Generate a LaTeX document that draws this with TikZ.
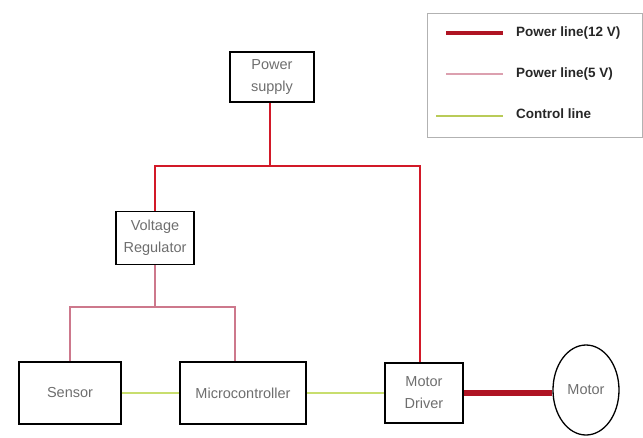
\documentclass[tikz,border=0pt]{standalone}
\usepackage{fontspec}
\setmainfont{Liberation Sans}
\usetikzlibrary{shapes.geometric}
\definecolor{red12}{RGB}{210,25,40}
\definecolor{dark12}{RGB}{175,20,35}
\definecolor{pink5}{RGB}{205,120,140}
\definecolor{ctrl}{RGB}{200,222,110}
\definecolor{boxtext}{RGB}{110,110,110}
\tikzset{
	blk/.style={draw=black, line width=1.8pt, text=boxtext, align=center, inner sep=0pt, font=\fontsize{14.5}{22}\selectfont},
	pw12/.style={line width=2.8pt, color=red12},
	pw5/.style={line width=1.3pt, color=pink5},
	ctl/.style={line width=2.2pt, color=ctrl},
	mot/.style={line width=5.5pt, color=dark12},
	lgd/.style={font=\bfseries\fontsize{13.5}{15}\selectfont, anchor=west, text=black!85, inner sep=0pt}
}

\begin{document}
\begin{tikzpicture}[x=1pt, y=-1pt]
	%%%%% START %%%%%
	\useasboundingbox (0,0) rectangle (643,437);

	\node[blk, minimum width=84, minimum height=50] (ps) at (272, 77) {Power\\supply};
	\node[blk, minimum width=78, minimum height=53] (vr) at (155, 238) {Voltage\\Regulator};
	\node[blk, minimum width=102, minimum height=62] (sensor) at (70, 393) {Sensor};
	\node[blk, minimum width=126, minimum height=62] (mcu) at (243, 393) {Microcontroller};
	\node[blk, minimum width=78, minimum height=60] (md) at (424, 393) {Motor\\Driver};
	\node[blk, ellipse, line width=1.3pt, minimum width=66, minimum height=90] (motor) at (586, 390) {Motor};

	%%%%% 12 V %%%%%
	\coordinate (j12) at (270, 166);
	\draw[pw12] (ps.south -| j12) -- (j12);
	\draw[pw12] (vr.north) |- (j12) -| ([xshift=-4pt]md.north);
	\draw[mot] (md.east) -- (md.east -| motor.west);

	%%%%% 5 V %%%%%
	\coordinate (j5) at (155, 307);
	\draw[pw5] (vr.south) -- (j5);
	\draw[pw5] (sensor.north) |- (j5) -| ([xshift=-8pt]mcu.north);

	%%%%% CONTROL %%%%%
	\draw[ctl] (sensor.east) -- (mcu.west);
	\draw[ctl] (mcu.east) -- (md.west);

	%%%%% LEGEND %%%%%
	\node[draw=black!30, line width=0.8pt, minimum width=215, minimum height=124, inner sep=0pt] (lgbox) at (534.5, 75) {};
	\coordinate (l1a) at (446, 33);  \coordinate (l1b) at (503, 33);
	\coordinate (l2a) at (446, 74);  \coordinate (l2b) at (503, 74);
	\coordinate (l3a) at (436, 116); \coordinate (l3b) at (503, 116);
	\draw[line width=4pt, color=dark12] (l1a) -- (l1b);
	\draw[line width=2.5pt, color=pink5!70] (l2a) -- (l2b);
	\draw[line width=1.5pt, color=ctrl!80!olive] (l3a) -- (l3b);
	\node[lgd] (t12) at (516, 33) {Power line(12 V)};
	\node[lgd] (t5) at (516, 74) {Power line(5 V)};
	\node[lgd] (tc) at (516, 114) {Control line};
	%%%%% END %%%%%
\end{tikzpicture}
\end{document}
